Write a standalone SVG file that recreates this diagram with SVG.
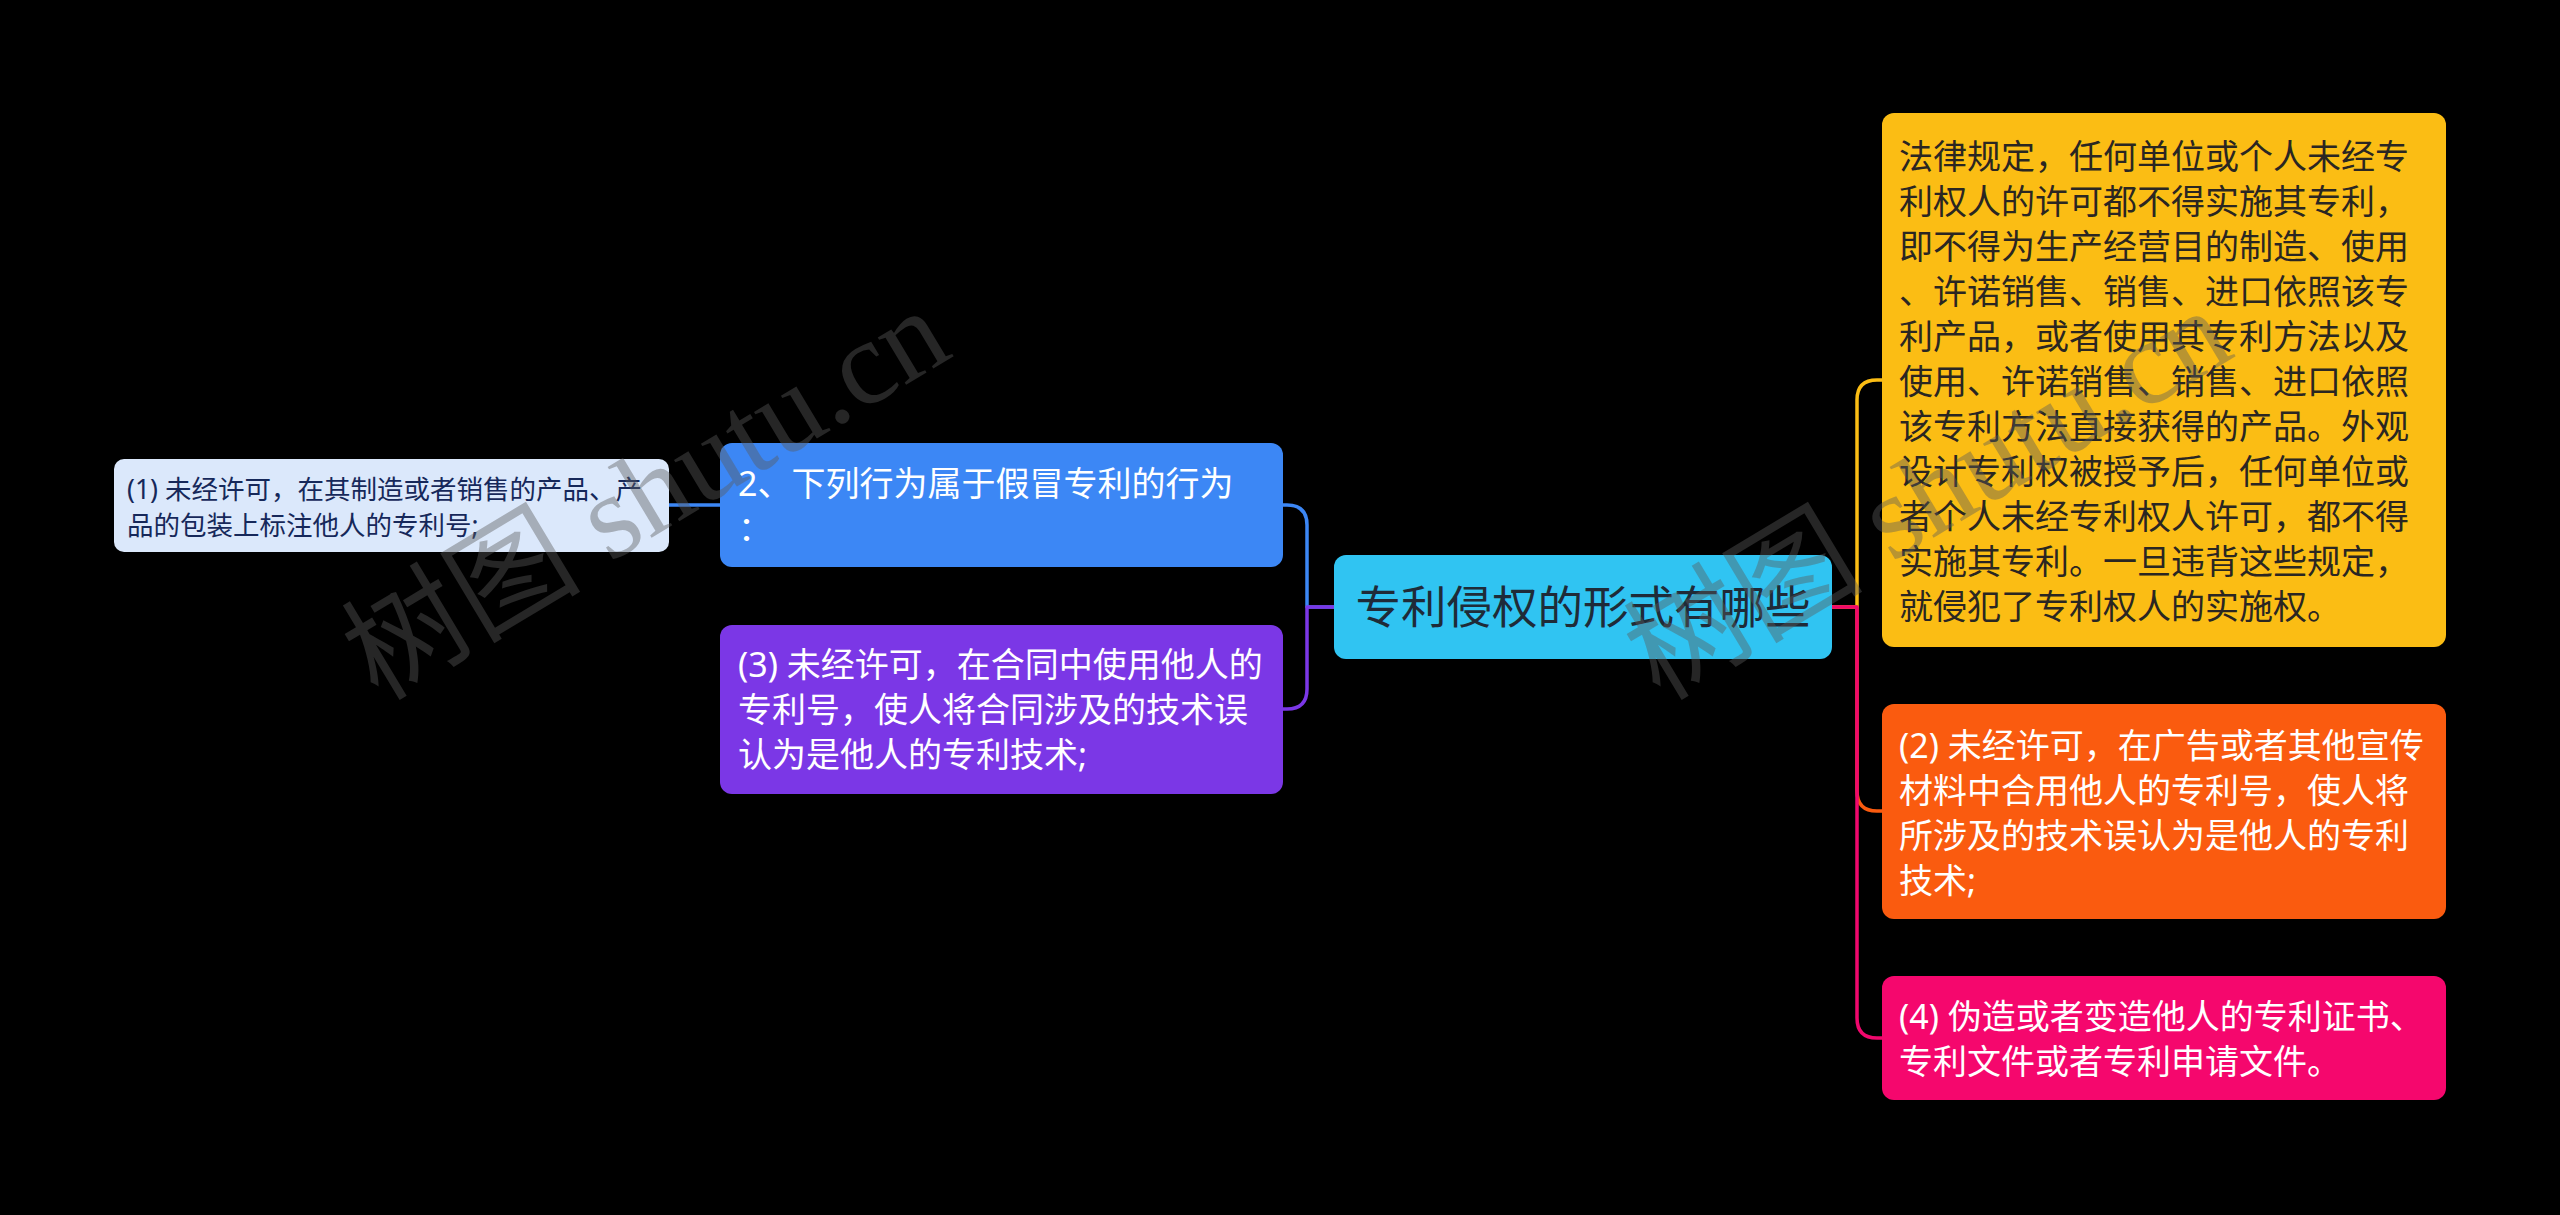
<svg xmlns="http://www.w3.org/2000/svg" width="2560" height="1215" viewBox="0 0 2560 1215">
<style>
.bg{fill:#000000}
.t{font-family:"Noto Sans","Noto Sans CJK SC",sans-serif}
.s25{font-size:26.5px}
.s34{font-size:34px}
.s45{font-size:45.5px}
.w{fill:#ffffff}
.dk{fill:#2a2622}
.nv{fill:#16285a}
.cn{fill:#1f2b38}
.ln{fill:none;stroke-width:3.5;stroke-linecap:round;stroke-linejoin:round}
.wm{font-family:"Liberation Serif","Noto Sans CJK SC",serif;font-size:120px;fill:#5a5a5a;fill-opacity:0.42}
</style>
<rect class="bg" x="0" y="0" width="2560" height="1215"/>
<g id="connectors">
<path class="ln" stroke="#3c87f5" d="M669,505 H720"/>
<path class="ln" stroke="#3c87f5" d="M1334,607 H1307 V525 Q1307,505 1287,505 H1283"/>
<path class="ln" stroke="#7b37e6" d="M1334,607 H1307 V689 Q1307,709 1287,709 H1283"/>
<path class="ln" stroke="#fbbd14" d="M1832,607 H1857 V400 Q1857,380 1877,380 H1882"/>
<path class="ln" stroke="#fa5b0f" d="M1832,607 H1857 V791 Q1857,811 1877,811 H1882"/>
<path class="ln" stroke="#f0086d" d="M1832,607 H1857 V1018 Q1857,1038 1877,1038 H1882"/>
</g>
<g id="node-root">
<rect x="1334" y="555" width="498" height="104" rx="12" fill="#30c4f2"/>
<text class="t s45 cn" x="1583" y="624" text-anchor="middle">专利侵权的形式有哪些</text>
</g>
<g id="node-left-2">
<rect x="720" y="443" width="563" height="124" rx="12" fill="#3c87f5"/>
<text class="t s34 w" x="738" y="496">2、下列行为属于假冒专利的行为</text>
<text class="t s34 w" x="738" y="541">：</text>
</g>
<g id="node-left-1">
<rect x="114" y="459" width="555" height="93" rx="10" fill="#dbe8fb"/>
<text class="t s25 nv" x="127" y="499">(1) 未经许可，在其制造或者销售的产品、产</text>
<text class="t s25 nv" x="127" y="535">品的包装上标注他人的专利号;</text>
</g>
<g id="node-left-3">
<rect x="720" y="625" width="563" height="169" rx="12" fill="#7b37e6"/>
<text class="t s34 w" x="738" y="677">(3) 未经许可，在合同中使用他人的</text>
<text class="t s34 w" x="738" y="722">专利号，使人将合同涉及的技术误</text>
<text class="t s34 w" x="738" y="767">认为是他人的专利技术;</text>
</g>
<g id="node-right-law">
<rect x="1882" y="113" width="564" height="534" rx="12" fill="#fbbd14"/>
<text class="t s34 dk" x="1899" y="169">法律规定，任何单位或个人未经专</text>
<text class="t s34 dk" x="1899" y="214">利权人的许可都不得实施其专利，</text>
<text class="t s34 dk" x="1899" y="259">即不得为生产经营目的制造、使用</text>
<text class="t s34 dk" x="1899" y="304">、许诺销售、销售、进口依照该专</text>
<text class="t s34 dk" x="1899" y="349">利产品，或者使用其专利方法以及</text>
<text class="t s34 dk" x="1899" y="394">使用、许诺销售、销售、进口依照</text>
<text class="t s34 dk" x="1899" y="439">该专利方法直接获得的产品。外观</text>
<text class="t s34 dk" x="1899" y="484">设计专利权被授予后，任何单位或</text>
<text class="t s34 dk" x="1899" y="529">者个人未经专利权人许可，都不得</text>
<text class="t s34 dk" x="1899" y="574">实施其专利。一旦违背这些规定，</text>
<text class="t s34 dk" x="1899" y="619">就侵犯了专利权人的实施权。</text>
</g>
<g id="node-right-2">
<rect x="1882" y="704" width="564" height="215" rx="12" fill="#fa5b0f"/>
<text class="t s34 w" x="1899" y="758">(2) 未经许可，在广告或者其他宣传</text>
<text class="t s34 w" x="1899" y="803">材料中合用他人的专利号，使人将</text>
<text class="t s34 w" x="1899" y="848">所涉及的技术误认为是他人的专利</text>
<text class="t s34 w" x="1899" y="893">技术;</text>
</g>
<g id="node-right-4">
<rect x="1882" y="976" width="564" height="124" rx="12" fill="#f5076d"/>
<text class="t s34 w" x="1899" y="1029">(4) 伪造或者变造他人的专利证书、</text>
<text class="t s34 w" x="1899" y="1074">专利文件或者专利申请文件。</text>
</g>
<g id="watermarks">
<text class="wm" transform="translate(378,702) rotate(-31)">树图 shutu.cn</text>
<text class="wm" transform="translate(1660,702) rotate(-31)">树图 shutu.cn</text>
</g>
</svg>
